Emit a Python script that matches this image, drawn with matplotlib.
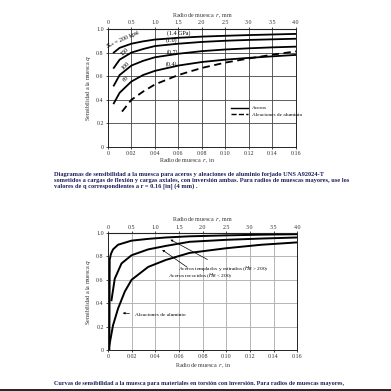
import matplotlib
matplotlib.use("Agg")
import matplotlib.pyplot as plt
import numpy as np

plt.rcParams['font.family'] = ['Liberation Serif', 'DejaVu Serif']

# ---- top chart: flexion / axial (r in inches, q) ----
r_200 = [0.005, 0.01, 0.02, 0.03, 0.04, 0.06, 0.08, 0.10, 0.12, 0.14, 0.16]
q_200 = [0.80, 0.84, 0.875, 0.895, 0.91, 0.925, 0.935, 0.942, 0.948, 0.953, 0.958]
r_150 = [0.005, 0.01, 0.02, 0.03, 0.04, 0.06, 0.08, 0.10, 0.12, 0.14, 0.16]
q_150 = [0.67, 0.74, 0.80, 0.83, 0.855, 0.875, 0.89, 0.90, 0.907, 0.912, 0.917]
r_100 = [0.005, 0.01, 0.02, 0.03, 0.04, 0.06, 0.08, 0.10, 0.12, 0.14, 0.16]
q_100 = [0.52, 0.61, 0.69, 0.73, 0.76, 0.79, 0.812, 0.826, 0.836, 0.844, 0.85]
r_60 = [0.005, 0.01, 0.02, 0.03, 0.04, 0.06, 0.08, 0.10, 0.12, 0.14, 0.16]
q_60 = [0.37, 0.46, 0.555, 0.61, 0.645, 0.69, 0.72, 0.74, 0.755, 0.768, 0.78]
r_al = [0.012, 0.02, 0.03, 0.04, 0.06, 0.08, 0.10, 0.12, 0.14, 0.16]
q_al = [0.30, 0.40, 0.47, 0.53, 0.61, 0.67, 0.715, 0.75, 0.782, 0.81]

# ---- bottom chart: torsion ----
r_temp = [0.0012, 0.0015, 0.0025, 0.0043, 0.0086, 0.02, 0.034, 0.049, 0.069, 0.10, 0.13, 0.16]
q_temp = [0.0, 0.77, 0.82, 0.86, 0.90, 0.935, 0.95, 0.962, 0.972, 0.98, 0.986, 0.99]
r_rec = [0.003, 0.0058, 0.0115, 0.02, 0.034, 0.049, 0.069, 0.10, 0.13, 0.16]
q_rec = [0.425, 0.61, 0.74, 0.81, 0.86, 0.89, 0.925, 0.942, 0.953, 0.962]
r_alt = [0.0005, 0.0043, 0.0086, 0.0143, 0.02, 0.034, 0.049, 0.069, 0.10, 0.13, 0.16]
q_alt = [0.0, 0.21, 0.355, 0.50, 0.60, 0.71, 0.77, 0.83, 0.87, 0.90, 0.92]

xticks_in = [0, 0.02, 0.04, 0.06, 0.08, 0.10, 0.12, 0.14, 0.16]
xlabels_in = ['0', '0.02', '0.04', '0.06', '0.08', '0.10', '0.12', '0.14', '0.16']
xticks_mm = [0, 0.5, 1.0, 1.5, 2.0, 2.5, 3.0, 3.5, 4.0]
xlabels_mm = ['0', '0.5', '1.0', '1.5', '2.0', '2.5', '3.0', '3.5', '4.0']
yticks = [0, 0.2, 0.4, 0.6, 0.8, 1.0]
ylabels = ['0', '0.2', '0.4', '0.6', '0.8', '1.0']

cap_col = '#1e1e5a'
fs = 4.3

fig = plt.figure(figsize=(3.91, 3.91), dpi=100)
fig.patch.set_facecolor('white')


def setup(ax, gridcol, ylab):
    ax.set_xlim(0, 0.16)
    ax.set_ylim(0, 1.0)
    ax.set_xticks(xticks_in)
    ax.set_xticklabels(xlabels_in, fontsize=fs, color='#333333')
    ax.set_yticks(yticks)
    ax.set_yticklabels(ylabels, fontsize=fs, color='#333333')
    ax.tick_params(length=1.5, width=0.5, pad=1.5)
    ax.grid(True, color=gridcol, lw=0.6)
    for s in ax.spines.values():
        s.set_linewidth(0.7)
        s.set_color('#222222')
    ax.set_xlabel('Radio de muesca  $r$, in', fontsize=fs, labelpad=2, color='#333333')
    ax.set_ylabel(ylab, fontsize=fs, labelpad=2, color='#333333')
    sec = ax.secondary_xaxis('top', functions=(lambda x: x * 25, lambda x: x / 25))
    sec.set_xticks(xticks_mm)
    sec.set_xticklabels(xlabels_mm, fontsize=fs, color='#333333')
    sec.tick_params(length=1.5, width=0.5, pad=1)
    sec.set_xlabel('Radio de muesca  $r$, mm', fontsize=fs, labelpad=2, color='#333333')
    return sec


# top chart
ax1 = fig.add_axes([0.276, 0.624, 0.481, 0.302])
setup(ax1, '#444444', 'Sensibilidad a la muesca $q$')
ax1.xaxis.set_label_coords(0.42, -0.08)
ax1.plot(r_200, q_200, 'k-', lw=1.3)
ax1.plot(r_150, q_150, 'k-', lw=1.3)
ax1.plot(r_100, q_100, 'k-', lw=1.3)
ax1.plot(r_60, q_60, 'k-', lw=1.3)
ax1.plot(r_al, q_al, 'k--', lw=1.3, dashes=(4, 2.5))
ax1.plot([], [], 'k-', lw=1.0, label='Aceros')
ax1.plot([], [], 'k--', lw=1.0, label='Aleaciones de aluminio')
ax1.legend(loc='upper left', bbox_to_anchor=(0.63, 0.39), frameon=False,
           fontsize=3.8, handlelength=3.2, handletextpad=0.8, labelspacing=0.4)

ax1.text(0.0128, 0.915, '$S_{ut}$ = 200 kpsi', fontsize=fs, rotation=24, ha='center', va='center')
ax1.text(0.0145, 0.81, '150', fontsize=fs, rotation=45, ha='center', va='center')
ax1.text(0.0149, 0.69, '100', fontsize=fs, rotation=45, ha='center', va='center')
ax1.text(0.0153, 0.575, '60', fontsize=fs, rotation=45, ha='center', va='center')
ax1.text(0.0604, 0.968, '(1.4 GPa)', fontsize=fs, ha='center', va='center')
ax1.text(0.0545, 0.905, '(1.0)', fontsize=fs, ha='center', va='center')
ax1.text(0.0545, 0.80, '(0.7)', fontsize=fs, ha='center', va='center')
ax1.text(0.054, 0.705, '(0.4)', fontsize=fs, ha='center', va='center')

cap1 = ('Diagramas de sensibilidad a la muesca para aceros y aleaciones de aluminio forjado UNS A92024-T\n'
        'sometidos a cargas de flexión y cargas axiales, con inversión ambas. Para radios de muescas mayores, use los\n'
        'valores de q correspondientes a r = 0.16 [in] (4 mm) .')
fig.text(54 / 391, 1 - 172 / 391, cap1, fontsize=4.55, fontweight='bold', color=cap_col,
         ha='left', va='top', linespacing=1.15)

# bottom chart
ax2 = fig.add_axes([0.276, 0.105, 0.484, 0.299])
setup(ax2, '#aaaaaa', 'Sensibilidad a la muesca $q$')
ax2.plot(r_temp, q_temp, 'k-', lw=1.4)
ax2.plot(r_rec, q_rec, 'k-', lw=1.4)
ax2.plot(r_alt, q_alt, 'k-', lw=1.4)

arr = dict(arrowstyle='-|>', color='k', lw=0.5, mutation_scale=3)
ax2.annotate('Aceros templados y estirados ($H_B$ > 200)', xy=(0.0508, 0.955), xytext=(0.0595, 0.70),
             fontsize=3.9, ha='left', va='center', arrowprops=arr)
ax2.annotate('Aceros recocidos ($H_B$ < 200)', xy=(0.044, 0.87), xytext=(0.0505, 0.632),
             fontsize=3.9, ha='left', va='center', arrowprops=arr)
ax2.annotate('Aleaciones de aluminio', xy=(0.0102, 0.316), xytext=(0.0229, 0.30),
             fontsize=3.9, ha='left', va='center', arrowprops=arr)

cap2 = 'Curvas de sensibilidad a la muesca para materiales en torsión con inversión. Para radios de muescas mayores,'
fig.text(54 / 391, 1 - 383 / 391, cap2, fontsize=4.4, fontweight='bold', color=cap_col,
         ha='left', va='center')

fig.add_artist(plt.Line2D([0, 1], [0.003, 0.003], color='k', lw=1.2, transform=fig.transFigure))

fig.savefig('out.png', dpi=100, facecolor='white')
